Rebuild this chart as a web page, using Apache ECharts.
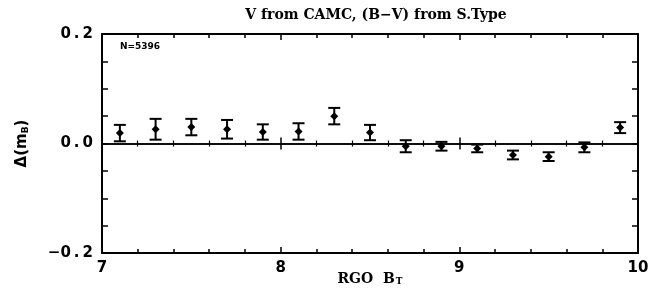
<!DOCTYPE html>
<html>
<head>
<meta charset="utf-8">
<script src="https://cdn.jsdelivr.net/npm/echarts@6/dist/echarts.min.js"></script>
<style>html,body{margin:0;padding:0;background:#fff;}#c{width:649px;height:288px;}</style>
</head>
<body>
<div id="c"></div>
<script>
var xValues = [7.1, 7.3, 7.5, 7.7, 7.9, 8.1, 8.3, 8.5, 8.7, 8.9, 9.1, 9.3, 9.5, 9.7, 9.9];
var dmValues = [0.019, 0.026, 0.030, 0.026, 0.021, 0.022, 0.050, 0.020, -0.005, -0.005, -0.009, -0.021, -0.024, -0.007, 0.029];
var errValues = [0.015, 0.019, 0.015, 0.017, 0.014, 0.015, 0.015, 0.014, 0.011, 0.008, 0.007, 0.008, 0.008, 0.009, 0.010];
var xTickLabels = ['7', '8', '9', '10'];
var yTickLabels = ['−0\u2009.\u20092', '0\u2009.\u20090', '0\u2009.\u20092'];

var data = xValues.map(function (x, i) { return [x, dmValues[i], errValues[i]]; });
var chart = echarts.init(document.getElementById('c'));
var lab = { fontFamily: 'DejaVu Sans', fontWeight: 'bold', fontSize: 15, color: '#000' };

function frameX(pos) {
  return {
    type: 'value', min: 7, max: 10, interval: 1, position: pos,
    axisLine: { show: true, onZero: false, lineStyle: { color: '#000', width: 2 } },
    axisTick: { show: true, inside: true, length: 6, lineStyle: { color: '#000', width: 1.5 } },
    minorTick: { show: true, splitNumber: 5, length: 4, lineStyle: { color: '#000', width: 1.5 } },
    splitLine: { show: false },
    axisLabel: { show: false }
  };
}
function zeroX(inside) {
  return {
    type: 'value', min: 7, max: 10, interval: 1, position: 'bottom',
    axisLine: { show: true, onZero: true, lineStyle: { color: '#000', width: 1.5 } },
    axisTick: { show: true, inside: inside, length: 6, lineStyle: { color: '#000', width: 1.5 } },
    minorTick: { show: true, splitNumber: 5, length: 3, lineStyle: { color: '#000', width: 1.2 } },
    splitLine: { show: false },
    axisLabel: { show: false }
  };
}
function frameY(pos) {
  return {
    type: 'value', min: -0.2, max: 0.2, interval: 0.05, position: pos,
    axisLine: { show: true, onZero: false, lineStyle: { color: '#000', width: 2 } },
    axisTick: { show: true, inside: true, length: 6, lineStyle: { color: '#000', width: 1.5 } },
    splitLine: { show: false },
    axisLabel: { show: false }
  };
}

var xBottom = frameX('bottom');
xBottom.axisLabel = Object.assign({ show: true, margin: 8, formatter: function (v) {
  var k = Math.round(v - 7); return xTickLabels[k] !== undefined && Math.abs(v - Math.round(v)) < 1e-6 ? xTickLabels[k] : '';
} }, lab);
xBottom.name = '{a|RGO  B}{s|T}';
xBottom.nameLocation = 'middle';
xBottom.nameGap = 19;
xBottom.nameMoveOverlap = false;
xBottom.nameTextStyle = { rich: {
  a: { fontFamily: 'DejaVu Serif', fontWeight: 'bold', fontSize: 14, color: '#000', lineHeight: 14 },
  s: { fontFamily: 'DejaVu Serif', fontWeight: 'bold', fontSize: 9, color: '#000', lineHeight: 14, verticalAlign: 'bottom', padding: [4, 0, 0, 1] }
} };

var yLeft = frameY('left');
yLeft.axisLabel = Object.assign({ show: true, margin: 9, formatter: function (v) {
  var k = Math.round(v * 100);
  if (k === -20) return yTickLabels[0];
  if (k === 0) return yTickLabels[1];
  if (k === 20) return yTickLabels[2];
  return '';
} }, lab);
yLeft.name = '{a|Δ(m}{s|B}{a|)}';
yLeft.nameLocation = 'middle';
yLeft.nameGap = 72;
yLeft.nameRotate = 90;
yLeft.nameMoveOverlap = false;
yLeft.nameTextStyle = { rich: {
  a: { fontFamily: 'DejaVu Sans', fontWeight: 'bold', fontSize: 15, color: '#000' },
  s: { fontFamily: 'DejaVu Sans', fontWeight: 'bold', fontSize: 9, color: '#000', verticalAlign: 'bottom', padding: [7, 0, 0, 0] }
} };

chart.setOption({
  animation: false,
  backgroundColor: '#fff',
  title: {
    text: 'V from CAMC, (B−V) from S.Type',
    left: 371, top: 3, textAlign: 'center',
    textStyle: { fontFamily: 'DejaVu Serif', fontWeight: 'bold', fontSize: 14, color: '#000' }
  },
  grid: { left: 102, right: 11, top: 34, bottom: 35, outerBoundsMode: 'none' },
  xAxis: [xBottom, frameX('top'), zeroX(true), zeroX(false)],
  yAxis: [yLeft, frameY('right')],
  graphic: [{
    type: 'text', left: 120, top: 42,
    style: { text: 'N=5396', font: 'bold 9px "DejaVu Sans"', fill: '#000' }
  }],
  series: [{
    type: 'custom',
    xAxisIndex: 0, yAxisIndex: 0,
    data: data,
    renderItem: function (params, api) {
      var x = api.value(0), y = api.value(1), e = api.value(2);
      var c = api.coord([x, y]);
      var t = api.coord([x, y + e]);
      var b = api.coord([x, y - e]);
      var hw = 6, r = 4;
      var ls = { stroke: '#000', lineWidth: 2 };
      return { type: 'group', children: [
        { type: 'line', shape: { x1: c[0], y1: t[1], x2: c[0], y2: b[1] }, style: ls },
        { type: 'line', shape: { x1: c[0] - hw, y1: t[1], x2: c[0] + hw, y2: t[1] }, style: ls },
        { type: 'line', shape: { x1: c[0] - hw, y1: b[1], x2: c[0] + hw, y2: b[1] }, style: ls },
        { type: 'polygon', shape: { points: [[c[0], c[1] - r], [c[0] + r, c[1]], [c[0], c[1] + r], [c[0] - r, c[1]]] }, style: { fill: '#000' } }
      ] };
    }
  }]
});
</script>
</body>
</html>
